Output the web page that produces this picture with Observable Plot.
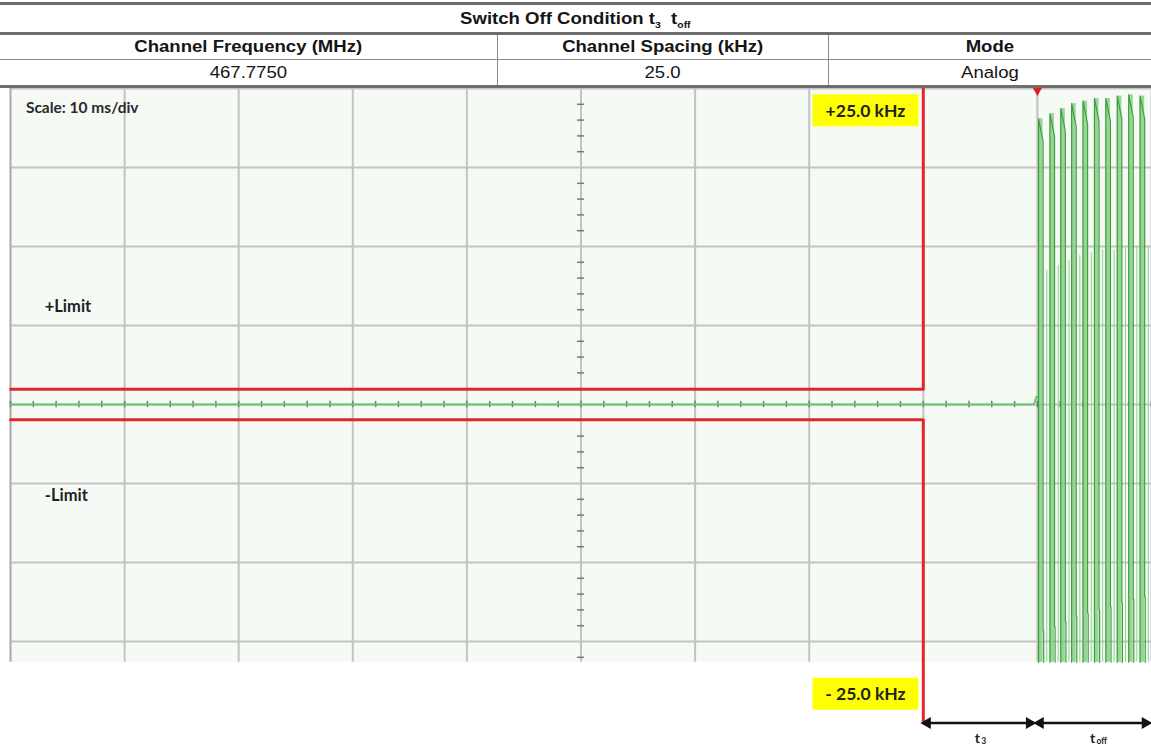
<!DOCTYPE html>
<html><head><meta charset="utf-8">
<script src="https://cdn.jsdelivr.net/npm/d3@7"></script>
<script src="https://cdn.jsdelivr.net/npm/@observablehq/plot@0.6"></script>
<style>
body{margin:0;background:#fff;width:1151px;height:746px;overflow:hidden;font-family:"Liberation Sans",Arial,sans-serif;}
#hdr{position:relative;height:88px;width:1151px;}
.ln{position:absolute;left:0;width:1151px;background:#6e6e6e;}
.vl{position:absolute;width:1px;background:#8a8a8a;}
.cell{position:absolute;text-align:center;color:#151515;white-space:nowrap;}
.cell span{display:inline-block;transform:scaleX(1.16);}
.title{font-weight:bold;font-size:16px;}
.title sub{font-size:9px;}
.head{font-weight:bold;font-size:16px;}
.val{font-size:16px;}
#chart svg{display:block;}
</style></head><body>
<div id="hdr"></div>
<div id="chart"></div>
<script>
// ---------- header data ----------
const tableTitle = 'Switch Off Condition t<sub>3</sub>&nbsp; t<sub>off</sub>';
const headers = ["Channel Frequency (MHz)", "Channel Spacing (kHz)", "Mode"];
const values = ["467.7750", "25.0", "Analog"];

// ---------- chart data (time in ms, deviation in kHz) ----------
const timeGrid = [0, 10, 20, 30, 40, 50, 60, 70, 80, 90, 100];
const freqGrid = [25, 18.75, 12.5, 6.25, 0, -6.25, -12.5, -18.75];
const screenTop = 25;
const screenBottom = -20.4;
const centerTime = 50;
const limitUpper = [{t: 0, f: 1.2}, {t: 80, f: 1.2}, {t: 80, f: 25}];
const limitLower = [{t: 0, f: -1.2}, {t: 80, f: -1.2}, {t: 80, f: -25}];
const flatTrace = [{t: 0, f: 0}, {t: 89.7, f: 0}, {t: 89.9, f: 0.6}, {t: 90.05, f: 0.6}];
const triggerTime = 90;
const burstStarts = [90.1, 91.1, 92.05, 93.0, 94.0, 95.0, 96.0, 97.0, 98.0, 99.0];
const burstPeaks = [22.6, 23.0, 23.4, 23.8, 24.0, 24.2, 24.2, 24.4, 24.5, 24.4];
const burstKinks = [-17.9, -17.6, -17.2, -16.8, -16.5, -16.2, -16.0, -15.7, -15.4, -15.2];
const pulseWidth = 0.4;
const arrows = [{x1: 80, x2: 89.65, label: "3", mid: 85.0}, {x1: 89.9, x2: 99.8, label: "off", mid: 95.1}];
const arrowY = -25.2;
const labelY = -26.4;
const kHzLabels = [{t: 74.93, f: 23.2, text: "+25.0 kHz"}, {t: 74.93, f: -22.95, text: "- 25.0 kHz"}];
const sideLabels = [{t: 3.0, f: 7.7, text: "+Limit"}, {t: 3.0, f: -7.2, text: "-Limit"}];
const scaleLabel = [{t: 1.35, f: 23.45, text: "Scale: 10 ms/div"}];

// ---------- header ----------
const hdr = document.getElementById("hdr");
const colEdges = [0, 497, 828, 1151];
function add(cls, style, html) {
  const d = document.createElement("div");
  d.className = cls; Object.assign(d.style, style);
  if (html != null) d.innerHTML = html;
  hdr.appendChild(d); return d;
}
add("ln", {top: "2px", height: "3px"});
add("ln", {top: "32px", height: "3px"});
add("ln", {top: "59px", height: "1px", background: "#8a8a8a"});
add("ln", {top: "85px", height: "3px"});
add("vl", {left: colEdges[1] + "px", top: "35px", height: "50px"});
add("vl", {left: colEdges[2] + "px", top: "35px", height: "50px"});
add("cell title", {left: "0px", width: "1151px", top: "5px", height: "27px", lineHeight: "27px"}, `<span>${tableTitle}</span>`);
headers.forEach((h, i) => add("cell head", {left: colEdges[i] + "px", width: (colEdges[i + 1] - colEdges[i]) + "px", top: "35px", height: "24px", lineHeight: "24px"}, `<span>${h}</span>`));
values.forEach((v, i) => add("cell val", {left: colEdges[i] + "px", width: (colEdges[i + 1] - colEdges[i]) + "px", top: "60px", height: "25px", lineHeight: "25px"}, `<span>${v}</span>`));

// ---------- derived tables for marks ----------
const bursts = burstStarts.map((s, i) => ({s, peak: burstPeaks[i], kink: burstKinks[i], i}));
const burstLines = bursts.flatMap(b => [
  {i: b.i, t: b.s, f: screenBottom},
  {i: b.i, t: b.s, f: b.peak},
  {i: b.i, t: b.s + pulseWidth, f: b.peak - 1.8},
  {i: b.i, t: b.s + pulseWidth, f: b.kink},
  {i: b.i, t: b.s + pulseWidth + 0.05, f: b.kink},
  {i: b.i, t: b.s + pulseWidth + 0.05, f: screenBottom}
]);
const minorFreq = d3.range(-20, 25.01, 1.25).filter(f => Math.abs(f / 6.25 - Math.round(f / 6.25)) > 1e-6);
const minorTime = d3.range(0, 100.01, 2);

const font = "Lato, 'Open Sans', sans-serif";
const plot = Plot.plot({
  width: 1151, height: 658,
  marginLeft: 10, marginRight: 0, marginTop: 0, marginBottom: 26,
  x: {domain: [0, 100], axis: null},
  y: {domain: [-25, 25], axis: null},
  style: {background: "white", overflow: "visible", fontFamily: font},
  marks: [
    Plot.rect([0], {x1: timeGrid[0], x2: timeGrid[timeGrid.length - 1], y1: screenBottom, y2: screenTop, fill: "#f5faf5"}),
    Plot.ruleY(freqGrid, {x1: timeGrid[0], x2: timeGrid[timeGrid.length - 1], stroke: "#c3c3c3", strokeWidth: 2}),
    Plot.ruleX(timeGrid, {y1: screenBottom, y2: screenTop, stroke: d => d === 0 ? "#a8a8a8" : "#c3c3c3", strokeWidth: 2}),
    Plot.ruleY(minorFreq, {y: d => d, x1: centerTime - 0.3, x2: centerTime + 0.3, stroke: "#777", strokeWidth: 1.5}),
    Plot.ruleX(minorTime, {x: d => d, y1: -0.25, y2: 0.25, stroke: "#777", strokeWidth: 1.5}),
    Plot.ruleX([triggerTime], {y1: screenTop, y2: burstPeaks[0], stroke: "#c8c8c8", strokeWidth: 2}),
    Plot.line(flatTrace, {x: "t", y: "f", stroke: "#6cc46c", strokeWidth: 2}),
    Plot.rect(bursts, {x1: "s", x2: d => d.s + pulseWidth, y1: screenBottom, y2: "peak", fill: "#86cf86", fillOpacity: 0.85}),
    Plot.ruleX(bursts, {x: d => d.s + 0.72, y1: screenBottom, y2: d => d.peak - 12, stroke: "#8fd18f", strokeWidth: 1}),
    Plot.line(burstLines, {x: "t", y: "f", z: "i", stroke: "#3f9f3f", strokeWidth: 1.2}),
    Plot.line(limitUpper, {x: "t", y: "f", stroke: "#e3262b", strokeWidth: 3}),
    Plot.line(limitLower, {x: "t", y: "f", stroke: "#e3262b", strokeWidth: 3}),
    Plot.dot([triggerTime], {x: d => d, y: screenTop, symbol: "triangle", r: 3.5, rotate: 180, fill: "#e02020", stroke: "none", dy: 2}),
    Plot.text(scaleLabel, {x: "t", y: "f", text: "text", textAnchor: "start", fontSize: 15.5, fontWeight: "bold", fill: "#2a2a2a", fontFamily: font}),
    Plot.text(sideLabels, {x: "t", y: "f", text: "text", textAnchor: "start", fontSize: 16.5, fontWeight: "bold", fill: "#222", fontFamily: font}),
    Plot.text(kHzLabels, {x: "t", y: "f", text: "text", fontSize: 17.5, fontWeight: "bold", fill: "#222", fontFamily: font}),
    Plot.link(arrows, {x1: "x1", x2: "x2", y1: arrowY, y2: arrowY, stroke: "#111", strokeWidth: 2.5}),
    Plot.dot(arrows, {x: "x1", y: arrowY, symbol: "triangle", r: 4.5, rotate: -90, fill: "#111", stroke: "none", dx: 4}),
    Plot.dot(arrows, {x: "x2", y: arrowY, symbol: "triangle", r: 4.5, rotate: 90, fill: "#111", stroke: "none", dx: -4}),
    Plot.text(arrows, {x: "mid", y: labelY, text: () => "t", fontSize: 14, fontWeight: "bold", fill: "#222", fontFamily: font, dx: -3}),
    Plot.text(arrows, {x: "mid", y: labelY, text: "label", fontSize: 8.5, fontWeight: "bold", fill: "#222", fontFamily: font, textAnchor: "start", dx: 1, dy: 3})
  ]
});
document.getElementById("chart").appendChild(plot);

// yellow highlight boxes behind the kHz labels
d3.select(plot).selectAll("text").filter(function() { return /kHz/.test(this.textContent); }).each(function() {
  const b = this.getBBox();
  const padX = (106 - b.width) / 2, padY = (32 - b.height) / 2;
  const r = document.createElementNS("http://www.w3.org/2000/svg", "rect");
  r.setAttribute("x", b.x - padX); r.setAttribute("y", b.y - padY);
  r.setAttribute("width", b.width + 2 * padX); r.setAttribute("height", b.height + 2 * padY);
  r.setAttribute("fill", "#ffff00");
  const tr = this.getAttribute("transform"); if (tr) r.setAttribute("transform", tr);
  this.parentNode.insertBefore(r, this);
});
</script>
</body></html>
